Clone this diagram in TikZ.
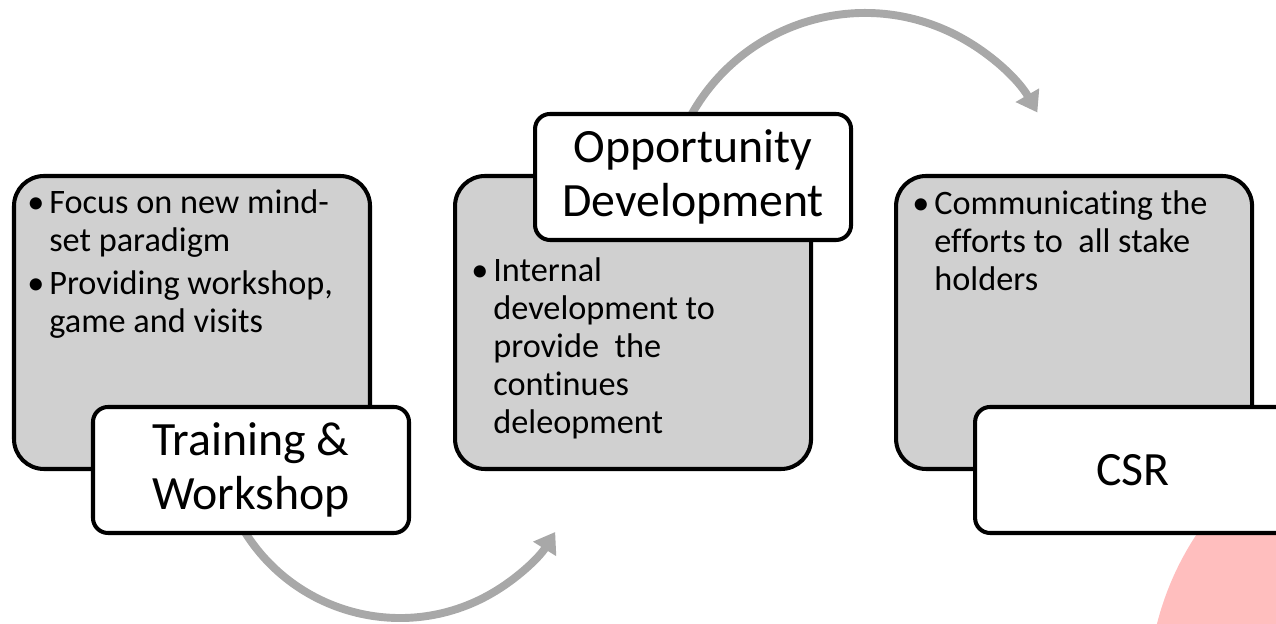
\documentclass[tikz,border=0pt]{standalone}
\usepackage{fontspec}
\setmainfont{Carlito}[Ligatures=NoCommon]
\usetikzlibrary{positioning,arrows.meta}
\definecolor{panelgray}{RGB}{208,208,208}
\definecolor{arcgray}{RGB}{168,168,168}
\definecolor{blush}{RGB}{255,190,190}
\newcommand{\bul}{\makebox[0.38cm][l]{\hspace*{-0.06cm}•}}
\newcommand{\ind}{\hspace*{0.38cm}}

\begin{document}
\begin{tikzpicture}[
  panel/.style={draw=black,line width=2.3pt,fill=panelgray,rounded corners=0.6cm,
    minimum width=7.12cm,minimum height=5.86cm},
  tag/.style={draw=black,line width=2.3pt,fill=white,rounded corners=0.3cm,
    minimum width=6.32cm,minimum height=2.52cm,align=center,
    font=\fontsize{27.2}{31}\selectfont},
  bullets/.style={anchor=north west,inner sep=0pt,align=left,
    font=\fontsize{19.5}{21.7}\selectfont},
  flow/.style={draw=arcgray,line width=4.5pt,-{Triangle[width=0.52cm,length=0.4cm]}}]
  \useasboundingbox (0,0) rectangle (25.52,12.48);
  \clip (0,0) rectangle (25.52,12.48);
  \fill[blush] (28.82,-1.44) circle (5.86);

  \coordinate (lowstart) at ([shift={(210:3.66)}]8.0,3.78);
  \coordinate (highstart) at ([shift={(153:3.98)}]17.3,8.24);
  \draw[flow] (lowstart) arc[start angle=210,end angle=328,radius=3.66];
  \draw[flow] (highstart) arc[start angle=153,end angle=30,radius=3.98];

  \node[panel] (trainbox) at (3.84,6.03) {};
  \node[panel, right=1.62cm of trainbox] (oppbox) {};
  \node[panel, right=1.62cm of oppbox] (csrbox) {};

  \node[bullets] (traintext) at ([shift={(0.36,-0.3)}]trainbox.north west)
    {\bul Focus on new mind-\\\ind set paradigm\\[3pt]\bul Providing workshop,\\\ind game and visits};
  \node[bullets] (opptext) at ([shift={(0.42,-1.66)}]oppbox.north west)
    {\bul Internal\\\ind development to\\\ind provide\ \ the\\\ind continues\\\ind deleopment};
  \node[bullets] (csrtext) at ([shift={(0.42,-0.32)}]csrbox.north west)
    {\bul Communicating the\\\ind efforts to\ \ all stake\\\ind holders};

  \node[tag, anchor=south east] (trainlabel) at ([shift={(0.78,-1.28)}]trainbox.south east) {Training \&\\Workshop};
  \node[tag, anchor=north east] (opplabel) at ([shift={(0.8,1.24)}]oppbox.north east) {Opportunity\\Development};
  \node[tag, anchor=south east] (csrlabel) at ([shift={(0.78,-1.28)}]csrbox.south east) {CSR};
\end{tikzpicture}
\end{document}
